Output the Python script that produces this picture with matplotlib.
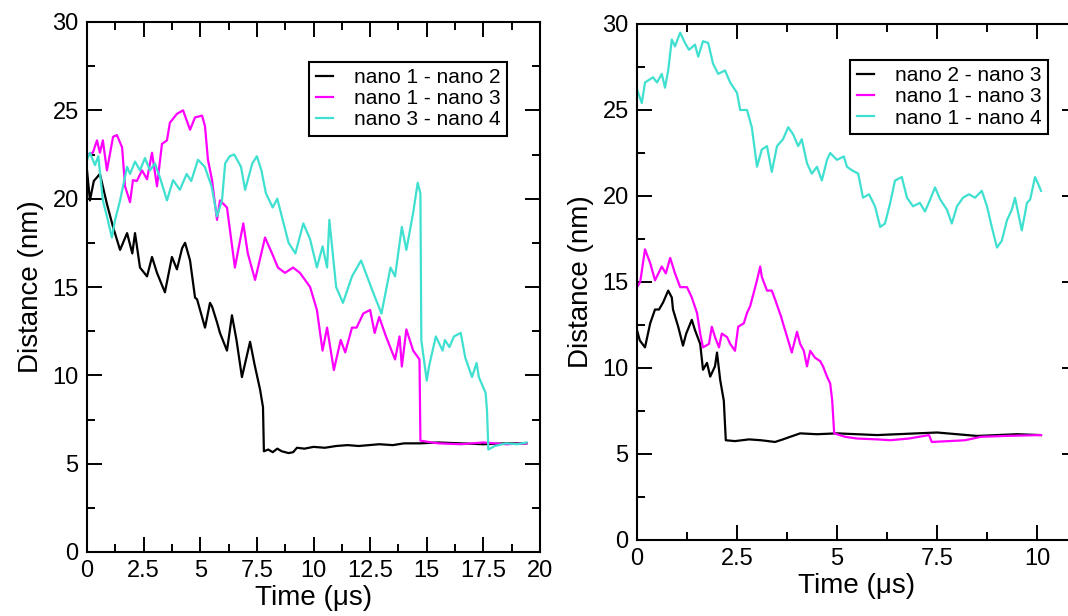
import matplotlib
matplotlib.use('Agg')
import matplotlib.pyplot as plt
from matplotlib.ticker import MultipleLocator

plt.rcParams['font.family'] = ['Liberation Sans', 'DejaVu Sans']

# ---- left panel data (time in us, distance in nm) ----
t12 = [0.0, 0.13, 0.3, 0.57, 0.88, 1.15, 1.46, 1.77, 2.0, 2.12, 2.34, 2.65, 2.87, 3.09, 3.44,
       3.75, 3.97, 4.2, 4.33, 4.55, 4.77, 4.86, 5.21, 5.43, 5.52, 5.74, 5.87, 6.18, 6.4, 6.6,
       6.84, 7.2, 7.4, 7.64, 7.77, 7.81, 8.0, 8.2, 8.4, 8.6, 8.9, 9.1, 9.27, 9.6, 10.0, 10.5,
       11.0, 11.5, 12.0, 12.9, 13.5, 14.0, 14.7, 15.5, 16.5, 17.5, 18.5, 19.4]
d12 = [21.6, 19.9, 21.0, 21.4, 19.7, 18.4, 17.1, 18.05, 16.9, 18.05, 16.1, 15.6, 16.7, 15.8, 14.7,
       16.7, 16.0, 17.2, 17.5, 16.5, 14.4, 14.3, 12.7, 14.1, 13.9, 13.0, 12.4, 11.4, 13.4, 12.0,
       9.9, 11.9, 10.6, 9.2, 8.2, 5.7, 5.8, 5.65, 5.85, 5.7, 5.6, 5.65, 5.9, 5.85, 5.95, 5.9,
       6.0, 6.05, 6.0, 6.1, 6.05, 6.15, 6.15, 6.2, 6.15, 6.1, 6.15, 6.15]

t13 = [0.0, 0.26, 0.44, 0.57, 0.7, 0.88, 1.15, 1.32, 1.55, 1.68, 1.9, 2.03, 2.2, 2.43, 2.65,
       2.87, 3.09, 3.31, 3.53, 3.66, 3.97, 4.24, 4.55, 4.77, 5.08, 5.21, 5.34, 5.52, 5.74, 5.87,
       6.18, 6.53, 6.9, 7.1, 7.42, 7.86, 8.17, 8.43, 8.74, 9.1, 9.4, 9.85, 10.15, 10.4, 10.6,
       10.9, 11.2, 11.4, 11.7, 11.9, 12.2, 12.5, 12.7, 12.9, 13.2, 13.6, 13.8, 13.9, 14.1, 14.4,
       14.68, 14.72, 15.5, 16.5, 17.5, 18.5, 19.4]
d13 = [22.5, 22.6, 23.3, 22.6, 23.3, 21.6, 23.5, 23.6, 22.9, 20.7, 19.8, 21.05, 21.0, 21.6, 21.1,
       22.6, 20.7, 23.1, 23.3, 24.3, 24.8, 25.0, 23.9, 24.6, 24.7, 24.1, 22.2, 21.05, 18.8, 19.9,
       19.5, 16.1, 18.6, 16.9, 15.4, 17.8, 16.9, 16.1, 15.8, 16.1, 15.8, 15.0, 13.7, 11.4, 12.7,
       10.3, 12.0, 11.3, 12.7, 12.7, 13.5, 13.7, 12.4, 13.3, 12.2, 10.9, 12.2, 10.5, 12.6, 11.4,
       10.9, 6.3, 6.15, 6.1, 6.2, 6.1, 6.15]

t34 = [0.0, 0.13, 0.35, 0.5, 0.7, 0.88, 1.1, 1.24, 1.46, 1.77, 1.9, 2.12, 2.34, 2.56, 2.78,
       3.0, 3.22, 3.53, 3.8, 4.1, 4.4, 4.6, 4.9, 5.2, 5.5, 5.74, 5.96, 6.1, 6.3, 6.5,
       6.8, 6.98, 7.3, 7.5, 7.7, 7.9, 8.2, 8.4, 8.6, 8.9, 9.2, 9.55, 9.85, 10.15, 10.4,
       10.6, 10.7, 11.0, 11.3, 11.7, 12.1, 12.6, 13.0, 13.4, 13.6, 13.9, 14.1, 14.4, 14.6,
       14.72, 14.76, 15.0, 15.1, 15.4, 15.7, 15.8, 16.0, 16.2, 16.5, 16.7, 17.0, 17.2, 17.3,
       17.6, 17.66, 17.72, 18.0, 18.5, 19.0, 19.4]
d34 = [22.2, 22.6, 21.9, 22.4, 19.9, 19.0, 17.8, 18.8, 19.9, 21.8, 21.4, 22.1, 21.6, 22.3, 21.6,
       22.0, 21.2, 19.9, 21.05, 20.5, 21.4, 21.0, 22.2, 21.8, 20.7, 19.0, 19.9, 22.0, 22.4, 22.5,
       21.8, 20.5, 22.0, 22.4, 21.6, 20.3, 19.5, 20.0, 19.0, 17.5, 16.9, 18.6, 17.7, 16.1, 17.3,
       16.1, 18.8, 15.0, 14.1, 15.6, 16.5, 14.8, 13.5, 16.1, 15.6, 18.4, 17.1, 19.2, 20.9,
       20.3, 12.0, 9.7, 10.5, 12.2, 11.4, 12.0, 11.6, 12.2, 12.4, 11.0, 9.9, 10.7, 9.9,
       9.0, 8.0, 5.8, 6.0, 6.15, 6.1, 6.2]

# ---- right panel data ----
t23 = [0.0, 0.07, 0.2, 0.33, 0.45, 0.55, 0.65, 0.78, 0.87, 0.9, 1.03, 1.15, 1.23, 1.37, 1.45,
       1.58, 1.65, 1.75, 1.83, 1.95, 2.0, 2.08, 2.17, 2.22, 2.45, 2.8, 3.1, 3.45, 3.65, 3.83,
       4.08, 4.5, 5.0, 5.5, 6.0, 6.5, 7.0, 7.5, 8.0, 8.5, 9.0, 9.5, 10.1]
d23 = [12.2, 11.6, 11.2, 12.6, 13.4, 13.4, 13.8, 14.5, 14.1, 13.4, 12.4, 11.3, 12.0, 12.8, 12.2,
       11.4, 9.9, 10.3, 9.5, 10.1, 10.9, 9.3, 8.1, 5.8, 5.75, 5.85, 5.8, 5.7, 5.85, 6.0,
       6.2, 6.15, 6.2, 6.15, 6.1, 6.15, 6.2, 6.25, 6.15, 6.05, 6.1, 6.15, 6.1]

t13b = [0.0, 0.08, 0.2, 0.33, 0.45, 0.62, 0.72, 0.83, 0.95, 1.08, 1.25, 1.37, 1.5, 1.58, 1.65,
        1.8, 1.87, 1.95, 2.05, 2.12, 2.25, 2.33, 2.45, 2.53, 2.67, 2.75, 2.83, 3.0, 3.08, 3.12,
        3.25, 3.37, 3.45, 3.6, 3.65, 3.78, 3.87, 4.0, 4.08, 4.17, 4.25, 4.33, 4.45, 4.58, 4.65,
        4.75, 4.83, 4.88, 4.93, 5.2, 5.5, 6.0, 6.33, 6.8, 7.3, 7.37, 7.8, 8.2, 8.6, 9.2, 10.1]
d13b = [14.7, 15.0, 16.9, 16.1, 15.1, 15.9, 15.5, 16.4, 15.5, 14.7, 14.7, 14.1, 13.2, 12.0, 11.2,
        11.4, 12.4, 11.8, 11.2, 12.0, 11.8, 11.4, 11.0, 12.4, 12.6, 13.2, 13.6, 15.1, 15.9, 15.3,
        14.5, 14.5, 14.0, 13.0, 12.6, 11.6, 10.9, 12.1, 11.4, 11.0, 10.1, 11.0, 10.6, 10.4, 10.1,
        9.5, 9.1, 8.1, 6.2, 6.0, 5.9, 5.85, 5.8, 5.9, 6.1, 5.7, 5.75, 5.8, 6.0, 6.05, 6.1]

t14 = [0.0, 0.12, 0.2, 0.4, 0.5, 0.62, 0.7, 0.78, 0.87, 0.95, 1.08, 1.2, 1.3, 1.45, 1.53,
       1.65, 1.78, 1.9, 2.03, 2.2, 2.33, 2.5, 2.58, 2.75, 2.87, 3.0, 3.12, 3.25, 3.37, 3.5,
       3.65, 3.78, 3.9, 4.03, 4.12, 4.25, 4.37, 4.5, 4.62, 4.75, 4.83, 5.0, 5.17, 5.25, 5.37,
       5.53, 5.65, 5.8, 5.95, 6.08, 6.2, 6.33, 6.45, 6.62, 6.75, 6.9, 7.07, 7.2, 7.33, 7.45,
       7.58, 7.75, 7.87, 8.0, 8.15, 8.3, 8.45, 8.62, 8.75, 8.87, 9.0, 9.12, 9.25, 9.37, 9.45,
       9.62, 9.75, 9.83, 9.95, 10.03, 10.1]
d14 = [26.2, 25.4, 26.6, 26.9, 26.6, 27.1, 26.3, 27.3, 29.1, 28.7, 29.5, 28.9, 28.5, 28.8, 28.1,
       29.0, 28.9, 27.7, 27.1, 27.3, 26.6, 26.0, 25.0, 25.0, 24.0, 21.7, 22.7, 22.9, 21.4, 22.9,
       23.3, 24.0, 23.6, 22.9, 23.3, 21.9, 21.3, 21.7, 20.9, 22.1, 22.5, 22.1, 22.3, 21.7, 21.5,
       21.3, 19.9, 20.1, 19.4, 18.2, 18.4, 19.6, 20.9, 21.1, 19.9, 19.4, 19.6, 19.1, 19.8, 20.5,
       19.8, 19.2, 18.4, 19.4, 19.9, 20.1, 19.9, 20.3, 19.4, 18.2, 17.0, 17.4, 18.6, 19.2, 19.9,
       18.0, 19.6, 19.8, 21.1, 20.7, 20.3]

black = 'black'
magenta = '#ff00ff'
cyan = '#40e0d0'
lw = 1.6

fig = plt.figure(figsize=(10.68, 6.16), dpi=100)
ax1 = fig.add_axes([87/1068, 64/616, 453/1068, 530/616])
ax2 = fig.add_axes([637/1068, 76/616, 440/1068, 516/616])

ax1.plot(t12, d12, color=black, lw=lw, label='nano 1 - nano 2')
ax1.plot(t13, d13, color=magenta, lw=lw, label='nano 1 - nano 3')
ax1.plot(t34, d34, color=cyan, lw=lw, label='nano 3 - nano 4')
ax1.set_xlim(0, 20)

ax2.plot(t23, d23, color=black, lw=lw, label='nano 2 - nano 3')
ax2.plot(t13b, d13b, color=magenta, lw=lw, label='nano 1 - nano 3')
ax2.plot(t14, d14, color=cyan, lw=lw, label='nano 1 - nano 4')
ax2.set_xlim(0, 11)

for ax, anchor in ((ax1, (0.927, 0.9245)), (ax2, (0.934, 0.930))):
  ax.set_ylim(0, 30)
  ax.xaxis.set_major_locator(MultipleLocator(2.5))
  ax.xaxis.set_minor_locator(MultipleLocator(1.25))
  ax.yaxis.set_major_locator(MultipleLocator(5))
  ax.yaxis.set_minor_locator(MultipleLocator(2.5))
  ax.xaxis.set_major_formatter(matplotlib.ticker.FuncFormatter(lambda v, p: '%g' % v))
  ax.tick_params(which='both', direction='in', top=True, right=True, width=1.4, labelsize=17)
  ax.tick_params(which='major', length=10.5, pad=6)
  ax.tick_params(which='minor', length=6)
  for sp in ax.spines.values():
    sp.set_linewidth(1.5)
  ax.set_xlabel('Time (μs)', fontsize=20, labelpad=2)
  ax.set_ylabel('Distance (nm)', fontsize=20, labelpad=6)
  leg = ax.legend(loc='upper right', bbox_to_anchor=anchor, fontsize=15, fancybox=False,
                  framealpha=1, edgecolor='black', handlelength=0.85, handletextpad=1.0,
                  borderaxespad=0, labelspacing=0.1, borderpad=0.3)
  leg.get_frame().set_linewidth(1.5)

fig.savefig('out.png', dpi=100)
